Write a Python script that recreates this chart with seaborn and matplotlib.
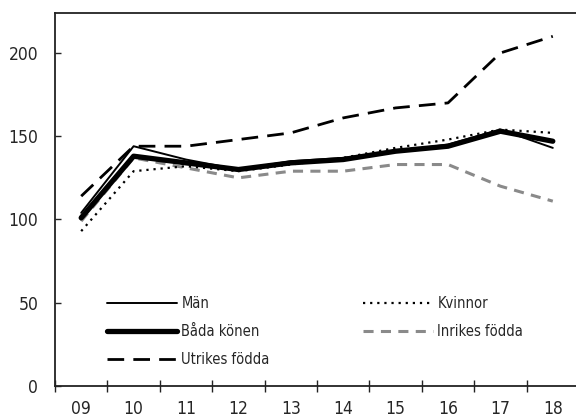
import matplotlib
matplotlib.use("Agg")
import matplotlib.pyplot as plt
import matplotlib.ticker as mticker
import numpy as np
import pandas as pd
import seaborn as sns

years = ["09", "10", "11", "12", "13", "14", "15", "16", "17", "18"]
man = [104, 144, 136, 130, 135, 137, 141, 145, 154, 143]
kvinnor = [93, 129, 132, 129, 133, 137, 143, 148, 154, 152]
bada = [101, 138, 134, 130, 134, 136, 141, 144, 153, 147]
inrikes = [99, 137, 131, 125, 129, 129, 133, 133, 120, 111]
utrikes = [114, 144, 144, 148, 152, 161, 167, 170, 200, 210]

sns.set_style("ticks")
plt.rcParams["font.family"] = ["DejaVu Sans"]
plt.rcParams["font.stretch"] = "condensed"

fig = plt.figure(figsize=(5.76, 4.19), dpi=100)
ax = fig.add_axes([55 / 576, 33 / 419, 524 / 576, 373 / 419])

x = np.arange(len(years))
series = [
    ("Män", man, dict(color="black", lw=1.4, ls="-")),
    ("Båda könen", bada, dict(color="black", lw=3.8, ls="-", solid_capstyle="round")),
    ("Utrikes födda", utrikes, dict(color="black", lw=2.0, ls=(0, (6, 3.3)))),
    ("Kvinnor", kvinnor, dict(color="black", lw=1.6, ls=(0, (1, 2.2)))),
    ("Inrikes födda", inrikes, dict(color="#8a8a8a", lw=2.2, ls=(0, (3.3, 2.4)))),
]
zorders = {"Män": 5, "Båda könen": 4, "Utrikes födda": 3, "Kvinnor": 6, "Inrikes födda": 2}
for name, vals, kw in series:
    sns.lineplot(x=x, y=vals, ax=ax, label=name, zorder=zorders[name], **kw)

ax.set_xlim(-0.5, 9.5)
ax.set_ylim(0, 224)
ax.set_xticks(x)
ax.set_xticklabels(years)
ax.xaxis.set_minor_locator(mticker.FixedLocator(np.arange(-0.5, 10, 1)))
ax.tick_params(axis="x", which="major", length=0, pad=10, labelsize=12.5)
ax.tick_params(axis="x", which="minor", direction="inout", length=8, width=1, color="#222222")
ax.set_yticks([0, 50, 100, 150, 200])
ax.tick_params(axis="y", direction="in", length=4, width=1, pad=12, labelsize=12.5)

for s in ["left", "bottom", "top"]:
    ax.spines[s].set_color("#222222")
    ax.spines[s].set_linewidth(1.3)
ax.spines["right"].set_visible(False)

ax.legend(ncol=2, frameon=False, loc="lower left", bbox_to_anchor=(0.074, 0.016),
          fontsize=10.5, handlelength=4.8, handletextpad=0.3, columnspacing=6.4,
          labelspacing=0.9)

fig.savefig("out.png", dpi=100)
